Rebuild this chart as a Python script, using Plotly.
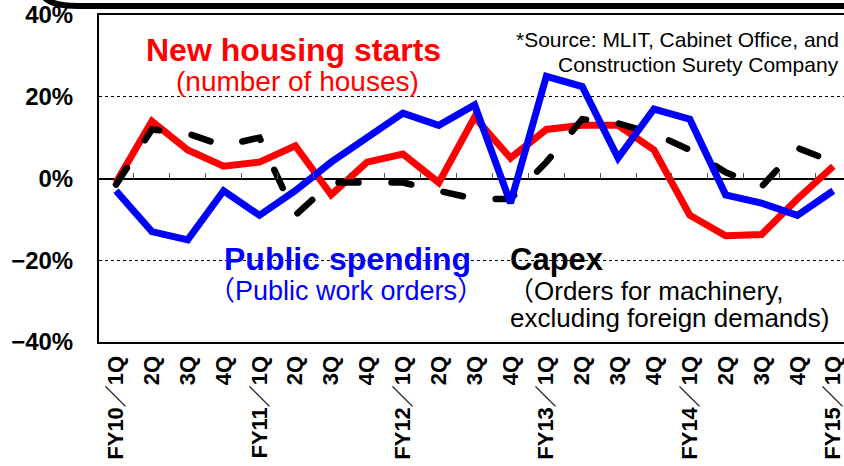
import plotly.graph_objects as go

# ---------------- data ----------------
categories = ["FY10／1Q", "2Q", "3Q", "4Q",
              "FY11／1Q", "2Q", "3Q", "4Q",
              "FY12／1Q", "2Q", "3Q", "4Q",
              "FY13／1Q", "2Q", "3Q", "4Q",
              "FY14／1Q", "2Q", "3Q", "4Q",
              "FY15／1Q"]
housing_starts = [-1, 14, 7, 3, 4, 8, -4, 4, 6, -1, 15, 5, 12, 13, 13, 7, -9, -14, -13.7, -5, 3]
public_spending = [-3, -13, -15, -3, -9, -3, 4, 10, 16, 13, 18, -6, 25, 22.5, 5, 17, 14.5, -4, -6, -9, -3]
capex = [-1.5, 12, 11, 8, 10, -9, -1, -1, -1, -3, -5, -5, 4, 14.5, 13.5, 11, 7, 1.5, -2, 7.5, 4]
y_tickvals = [-40, -20, 0, 20, 40]
y_ticktext = ["−40%", "−20%", "0%", "20%", "40%"]

# ---------------- geometry helpers ----------------
W, H = 844, 466
ML, MR, MT, MB = 99, 0, 15, 124
PW = W - ML - MR
PH = H - MT - MB


def px(x):
    return (x - ML) / PW


def py(y):
    return (H - MB - y) / PH


FONT = "Arial, 'Liberation Sans', 'Noto Sans CJK JP', sans-serif"
x_idx = list(range(len(categories)))
xr = [-0.474, 20.30]

fig = go.Figure()
fig.add_trace(go.Scatter(x=x_idx, y=housing_starts, mode="lines",
                         line=dict(color="#ff0000", width=7), hoverinfo="skip"))
fig.add_trace(go.Scatter(x=x_idx, y=capex, mode="lines",
                         line=dict(color="#000000", width=6.5, dash="20px,33px"),
                         hoverinfo="skip"))
fig.add_trace(go.Scatter(x=x_idx, y=public_spending, mode="lines",
                         line=dict(color="#0000ff", width=7), hoverinfo="skip"))
# helper trace for the zero-line tick axis
fig.add_trace(go.Scatter(x=[], y=[], xaxis="x2", showlegend=False, hoverinfo="skip"))

fig.update_layout(
    width=W, height=H,
    margin=dict(l=ML, r=MR, t=MT, b=MB, pad=0, autoexpand=False),
    paper_bgcolor="white", plot_bgcolor="white",
    showlegend=False,
    font=dict(family=FONT, color="black"),
    xaxis=dict(
        range=xr, tickmode="array", tickvals=x_idx, ticktext=categories,
        tickangle=-90, tickfont=dict(size=22, weight="bold", color="black"),
        showgrid=False, zeroline=False, showline=True, linecolor="black",
        linewidth=2, mirror=True, ticks="", ticklabelstandoff=3,
        automargin=False, ticklabeloverflow="allow",
    ),
    xaxis2=dict(
        overlaying="x", anchor="free", position=0.5, side="bottom",
        range=xr, tickmode="array", tickvals=[i + 0.5 for i in range(20)],
        ticks="inside", ticklen=6, tickwidth=1, tickcolor="#555555",
        showticklabels=False, showgrid=False, zeroline=False, showline=False,
        automargin=False,
    ),
    yaxis=dict(
        range=[-40, 40], tickmode="array", tickvals=y_tickvals, ticktext=y_ticktext,
        tickfont=dict(size=24, weight="bold", color="black"),
        showgrid=True, gridcolor="black", gridwidth=1, griddash="dot",
        zeroline=True, zerolinecolor="black", zerolinewidth=1.5,
        showline=True, linecolor="black", linewidth=2, ticks="",
        ticklabelstandoff=19, automargin=False,
    ),
)

# decorative top band
fig.add_shape(type="path", xref="paper", yref="paper",
              path=f"M {px(44)},{py(-3)} Q {px(52)},{py(6)} {px(78)},{py(6)} L {px(846)},{py(6)}",
              line=dict(color="black", width=6))

ann = []


def add(text, x, y, size, color, bold=False, xanchor="center"):
    ann.append(dict(text=text, x=px(x), y=py(y), xref="paper", yref="paper",
                    xanchor=xanchor, yanchor="middle", showarrow=False,
                    font=dict(size=size, color=color, family=FONT,
                              weight="bold" if bold else "normal")))


add("New housing starts", 293.5, 50, 32, "#ff0000", bold=True)
add("(number of houses)", 297.5, 81, 28, "#ff0000")
add("*Source: MLIT, Cabinet Office, and", 841, 39, 21, "black", xanchor="right")
add("Construction Surety Company", 841, 64, 21, "black", xanchor="right")
add("Public spending", 347.5, 259, 32, "#0000ff", bold=True)
add("（Public work orders）", 346, 291, 27, "#0000ff")
add("Capex", 508, 259, 31, "black", bold=True, xanchor="left")
add("（Orders for machinery,", 506, 291, 26, "black", xanchor="left")
add("excluding foreign demands)", 508, 318, 26, "black", xanchor="left")

fig.update_layout(annotations=ann)

post = (
    "document.body.style.margin='0';document.body.style.overflow='hidden';"
    "var st=document.createElement('style');"
    "st.textContent='.scatterlayer .trace:nth-child(2) path.js-line{stroke-linecap:round;}';"
    "document.head.appendChild(st);"
)
fig.write_html("out.html", config={"displayModeBar": False}, post_script=post)
